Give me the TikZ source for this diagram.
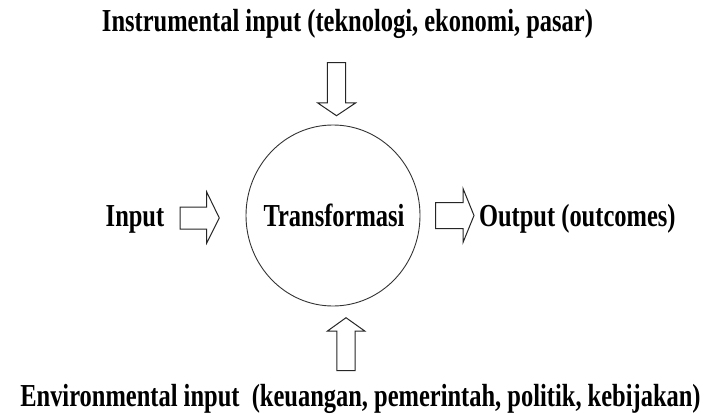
\documentclass[tikz,border=0pt]{standalone}
\usepackage{fontspec}
\setmainfont{Liberation Serif}[FakeStretch=0.765]
\usetikzlibrary{shapes.geometric}
\tikzset{
  lbl/.style={anchor=base, inner sep=0pt, font=\fontsize{32}{37}\selectfont\bfseries},
  blockarrow/.style={draw=black!85, line width=1pt, fill=white, line join=miter},
  ring/.style={draw=black!80, line width=0.9pt, ellipse, inner sep=0pt, minimum width=174pt, minimum height=181pt}
}
\begin{document}
\begin{tikzpicture}[x=1pt,y=-1pt]
\useasboundingbox (0,0) rectangle (708,414);
% circle
\node[ring] (c) at (333,215.5) {};
% texts
\node[lbl] (trans) at (334,226.7) {Transformasi};
\node[lbl] (top) at (347.5,31.7) {Instrumental input (teknologi, ekonomi, pasar)};
\node[lbl] (inp) at (135,226.7) {Input};
\node[lbl] (outp) at (577.3,226.7) {Output (outcomes)};
\node[lbl] (bot) at (360.5,406.7) {Environmental input~~(keuangan, pemerintah, politik, kebijakan)};
% input arrow
\coordinate (ia) at (180,218);
\draw[blockarrow] (ia) ++(0,-11) -- ++(26.7,0) -- ++(0,-15) -- (219.3,218) -- (206.7,243) -- ++(0,-14) -- ++(-26.7,0) -- cycle;
% output arrow
\coordinate (oa) at (435.7,215.5);
\draw[blockarrow] (oa) ++(0,-13) -- ++(27.3,0) -- ++(0,-14) -- (474,215.5) -- (463,242.5) -- ++(0,-14) -- ++(-27.3,0) -- cycle;
% top arrow
\coordinate (ta) at (336.5,62.7);
\draw[blockarrow] (ta) ++(-9.2,0) -- ++(0,40.3) -- ++(-9.5,0) -- (336.5,115.7) -- (355.5,103) -- ++(-9.8,0) -- ++(0,-40.3) -- cycle;
% bottom arrow
\coordinate (ba) at (346,370.7);
\draw[blockarrow] (ba) ++(-9.2,0) -- ++(0,-39.7) -- ++(-9.3,0) -- (346,317.7) -- (364.7,331) -- ++(-9.5,0) -- ++(0,39.7) -- cycle;
\end{tikzpicture}
\end{document}
